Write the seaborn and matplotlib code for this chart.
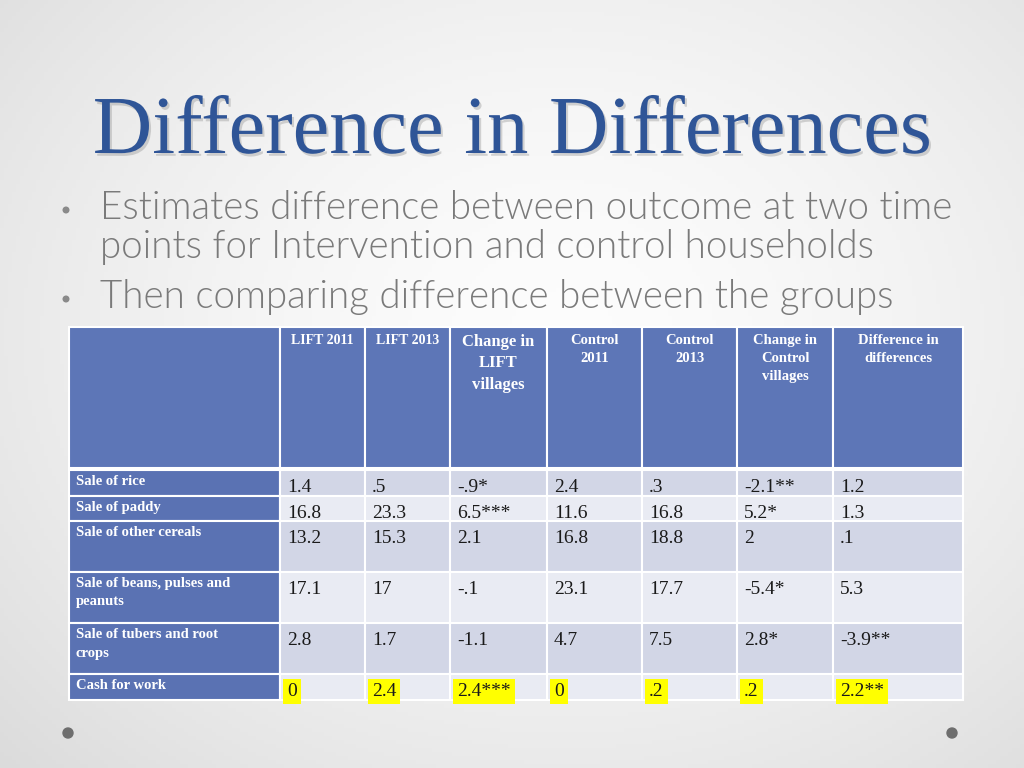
"""Diapositive : tableau difference-in-differences (LIFT vs contrôle)."""

import numpy as np
import matplotlib
matplotlib.use("Agg")
import matplotlib.pyplot as plt
import matplotlib.patheffects as pe
from matplotlib.patches import Rectangle, Circle
import seaborn as sns

# --- données du tableau ---
row_labels = [
    "Sale of rice",
    "Sale of paddy",
    "Sale of other cereals",
    "Sale of beans, pulses and\npeanuts",
    "Sale of tubers and root\ncrops",
    "Cash for work",
]
col_labels = [
    "LIFT 2011",
    "LIFT 2013",
    "Change in\nLIFT\nvillages",
    "Control\n2011",
    "Control\n2013",
    "Change in\nControl\nvillages",
    "Difference in\ndifferences",
]
lift_2011 = [1.4, 16.8, 13.2, 17.1, 2.8, 0]
lift_2013 = [0.5, 23.3, 15.3, 17, 1.7, 2.4]
lift_change = [-0.9, 6.5, 2.1, -0.1, -1.1, 2.4]
lift_change_sig = ["*", "***", "", "", "", "***"]
control_2011 = [2.4, 11.6, 16.8, 23.1, 4.7, 0]
control_2013 = [0.3, 16.8, 18.8, 17.7, 7.5, 0.2]
control_change = [-2.1, 5.2, 2, -5.4, 2.8, 0.2]
control_change_sig = ["**", "*", "", "*", "*", ""]
did = [1.2, 1.3, 0.1, 5.3, -3.9, 2.2]
did_sig = ["", "", "", "", "**", "**"]
highlight_row = "Cash for work"

title = "Difference in Differences"
bullets = [
    ["Estimates difference between outcome at two time",
     "points for Intervention and control households"],
    ["Then comparing difference between the groups"],
]


def fmt(v, sig=""):
    s = f"{v:g}"
    if s.startswith("0.") and v != 0:
        s = s[1:]
    elif s.startswith("-0."):
        s = "-" + s[2:]
    return s + sig


columns = [
    [fmt(v) for v in lift_2011],
    [fmt(v) for v in lift_2013],
    [fmt(v, s) for v, s in zip(lift_change, lift_change_sig)],
    [fmt(v) for v in control_2011],
    [fmt(v) for v in control_2013],
    [fmt(v, s) for v, s in zip(control_change, control_change_sig)],
    [fmt(v, s) for v, s in zip(did, did_sig)],
]

# --- mise en page (pixels) ---
x_edges = [69, 280, 365, 450, 547, 642, 737, 833, 963]
y_edges = [327, 470, 496, 521, 572, 623, 674, 700]

BLUE = "#5D76B7"
BLUE_ROW = "#5A72B3"
DARK_BAND = "#D2D6E6"
LIGHT_BAND = "#E9EBF3"
SERIF = ["Liberation Serif", "DejaVu Serif"]

sns.set_theme(style="white")
plt.rcParams["font.family"] = ["Lato", "DejaVu Sans"]

fig = plt.figure(figsize=(10.24, 7.68), dpi=100)
ax = fig.add_axes([0, 0, 1, 1])
ax.set_xlim(0, 1024)
ax.set_ylim(768, 0)
ax.axis("off")

# fond en dégradé radial
yy, xx = np.mgrid[0:768:4, 0:1024:4]
r = np.sqrt(((xx - 560) / 700) ** 2 + ((yy - 330) / 560) ** 2)
shade = np.clip(0.99 - 0.11 * r ** 1.6, 0.86, 1.0)
ax.imshow(np.dstack([shade] * 3), extent=(0, 1024, 768, 0), zorder=0, aspect="auto")

# titre
t = ax.text(512, 153, title, ha="center", va="baseline", fontsize=60,
            family=SERIF, color="#2F5597", zorder=3,
            path_effects=[pe.withSimplePatchShadow(offset=(1.5, -2), shadow_rgbFace="#8A8A8A", alpha=0.35)])

# puces
bullet_kw = dict(ha="left", va="baseline", color="#7A7A7A", fontsize=25,
                 fontweight=300, zorder=3)
lines_y = [[219, 258], [308]]
for group, ys in zip(bullets, lines_y):
    ax.add_patch(Circle((66, ys[0] - 9), 2.8, color="#8A8A8A", zorder=3))
    for line, y in zip(group, ys):
        ax.text(100, y, line, **bullet_kw)

# ajustement de la largeur du titre et des puces
fig.canvas.draw()
renderer = fig.canvas.get_renderer()
w = t.get_window_extent(renderer).width
t.set_fontsize(60 * 840 / w)
for txt in ax.texts[1:]:
    if txt.get_text() == bullets[0][0]:
        wb = txt.get_window_extent(renderer).width
        size = 25 * 852 / wb
for txt in ax.texts[1:]:
    txt.set_fontsize(size)

# en-tête
ax.add_patch(Rectangle((x_edges[0], y_edges[0]), x_edges[-1] - x_edges[0], y_edges[1] - y_edges[0],
                       facecolor=BLUE, edgecolor="none", zorder=1))
header_sizes = [10, 10, 12, 10.5, 10.5, 10.5, 10.5]
header_spacing = [1.2, 1.2, 1.45, 1.5, 1.5, 1.5, 1.5]
for j in range(len(x_edges) - 1):
    x0, x1 = x_edges[j], x_edges[j + 1]
    ax.add_patch(Rectangle((x0, y_edges[0]), x1 - x0, y_edges[1] - y_edges[0] - 2,
                           facecolor=BLUE, edgecolor="white", linewidth=1.5, zorder=2))
    if j > 0:
        ax.text((x0 + x1) / 2, y_edges[0] + 7, col_labels[j - 1], ha="center", va="top",
                multialignment="center", family=SERIF, fontsize=header_sizes[j - 1],
                fontweight="bold", linespacing=header_spacing[j - 1], color="white", zorder=4)

# corps du tableau
for i, label in enumerate(row_labels):
    y0, y1 = y_edges[i + 1], y_edges[i + 2]
    band = DARK_BAND if i % 2 == 0 else LIGHT_BAND
    ax.add_patch(Rectangle((x_edges[0], y0), x_edges[1] - x_edges[0], y1 - y0,
                           facecolor=BLUE_ROW, edgecolor="white", linewidth=1.5, zorder=2))
    ax.text(x_edges[0] + 7, y0 + 5, label, ha="left", va="top", family=SERIF,
            fontsize=10.5, fontweight="bold", linespacing=1.55, color="white", zorder=4)
    for j, col in enumerate(columns):
        x0, x1 = x_edges[j + 1], x_edges[j + 2]
        ax.add_patch(Rectangle((x0, y0), x1 - x0, y1 - y0,
                               facecolor=band, edgecolor="white", linewidth=1.5, zorder=2))
        kw = {}
        if label == highlight_row:
            kw["bbox"] = dict(boxstyle="square,pad=0.2", facecolor="#FFFF00", edgecolor="none")
        ax.text(x0 + 7, y0 + 22, col[i], ha="left", va="baseline", family=SERIF,
                fontsize=14, color="#1A1A1A", zorder=4, **kw)

# points décoratifs
for cx in (68, 952):
    ax.add_patch(Circle((cx, 733), 5, color="#6E6E6E", zorder=3))

fig.savefig("out.png", dpi=100)
